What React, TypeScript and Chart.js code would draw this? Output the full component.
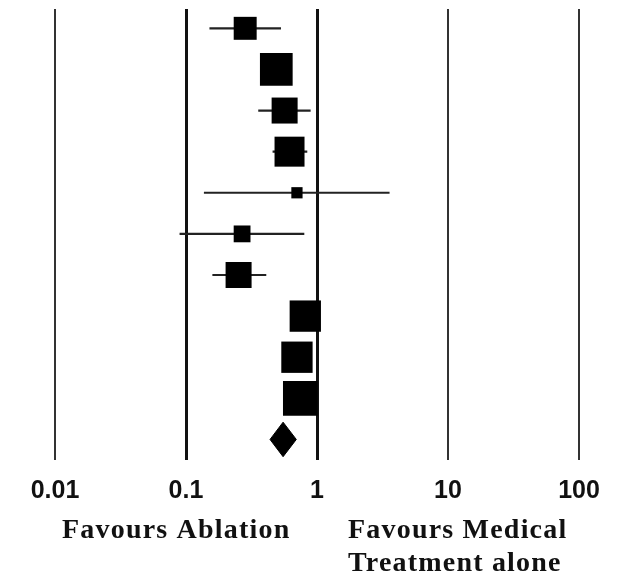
import React, { useEffect, useRef } from 'react';
import { Chart, registerables } from 'chart.js';

Chart.register(...registerables);

// ---- Data ----
const studies = ['Study 1', 'Study 2', 'Study 3', 'Study 4', 'Study 5', 'Study 6', 'Study 7', 'Study 8', 'Study 9', 'Study 10'];
const estimates = [0.283, 0.489, 0.566, 0.617, 0.703, 0.268, 0.252, 0.814, 0.703, 0.746];
const lowerCI = [0.151, 0.42, 0.356, 0.458, 0.137, 0.0893, 0.159, 0.70, 0.60, 0.63];
const upperCI = [0.531, 0.57, 0.894, 0.843, 3.58, 0.80, 0.41, 0.95, 0.82, 0.88];
const weights = [7.1, 14.4, 9.1, 12.1, 1.7, 3.8, 9.1, 13.2, 13.2, 16.2];
const pooledEstimate = 0.551;
const pooledLower = 0.438;
const pooledUpper = 0.695;
const tickValues = [0.01, 0.1, 1, 10, 100];
const tickLabels = ['0.01', '0.1', '1', '10', '100'];
const leftLabel = 'Favours Ablation';
const rightLabelLines = ['Favours Medical', 'Treatment alone'];

const SQUARE_SCALE = 8.62; // px of side per sqrt(weight)
const DIAMOND_HALF_HEIGHT = 0.42; // in row units

const labelsPlugin = {
  id: 'favoursLabels',
  afterDraw(chart: any) {
    const ctx = chart.ctx as CanvasRenderingContext2D;
    ctx.save();
    ctx.fillStyle = '#111';
    ctx.font = 'bold 28px "Liberation Serif", "Times New Roman", serif';
    (ctx as any).letterSpacing = '1.2px';
    ctx.textAlign = 'left';
    ctx.textBaseline = 'alphabetic';
    ctx.fillText(leftLabel, 62, 538);
    ctx.fillText(rightLabelLines[0], 348, 538);
    ctx.fillText(rightLabelLines[1], 348, 571);
    ctx.restore();
  },
};

export default function App() {
  const canvasRef = useRef<HTMLCanvasElement | null>(null);

  useEffect(() => {
    document.body.style.margin = '0';
    const canvas = canvasRef.current;
    if (!canvas) return;

    const squareData = estimates.map((v, i) => ({ x: v, y: i }));
    const squareRadii = weights.map((w) => (SQUARE_SCALE * Math.sqrt(w)) / Math.SQRT2);

    const whiskerSets = studies.map((name, i) => ({
      type: 'line' as const,
      label: name + ' CI',
      data: [
        { x: lowerCI[i], y: i },
        { x: upperCI[i], y: i },
      ],
      borderColor: '#222',
      borderWidth: 2.2,
      pointRadius: 0,
      pointHoverRadius: 0,
      fill: false,
      order: 2,
    }));

    const py = studies.length;
    const diamond = {
      type: 'line' as const,
      label: 'Pooled',
      data: [
        { x: pooledLower, y: py },
        { x: pooledEstimate, y: py - DIAMOND_HALF_HEIGHT },
        { x: pooledUpper, y: py },
        { x: pooledEstimate, y: py + DIAMOND_HALF_HEIGHT },
        { x: pooledLower, y: py },
      ],
      borderColor: '#000',
      backgroundColor: '#000',
      borderWidth: 1,
      pointRadius: 0,
      pointHoverRadius: 0,
      tension: 0,
      fill: 'shape',
      order: 1,
    };

    const chart = new Chart(canvas, {
      type: 'scatter',
      data: {
        datasets: [
          {
            type: 'scatter',
            label: 'Estimate',
            data: squareData,
            pointStyle: 'rect',
            pointRadius: squareRadii,
            pointHoverRadius: squareRadii,
            backgroundColor: '#000',
            borderColor: '#000',
            borderWidth: 0,
            order: 0,
          } as any,
          ...whiskerSets,
          diamond as any,
        ],
      },
      options: {
        animation: false,
        responsive: false,
        events: [],
        layout: { autoPadding: false, padding: { top: 9, left: 55, right: 41, bottom: 52 } },
        plugins: {
          legend: { display: false },
          tooltip: { enabled: false },
        },
        scales: {
          x: {
            type: 'logarithmic',
            min: 0.01,
            max: 100,
            afterBuildTicks: (scale: any) => {
              scale.ticks = tickValues.map((v) => ({ value: v, major: true }));
            },
            ticks: {
              autoSkip: false,
              maxRotation: 0,
              padding: 16,
              color: '#111',
              font: { family: '"Liberation Sans", Arial, sans-serif', size: 25, weight: 'bold' },
              callback: (value: any) => {
                const idx = tickValues.findIndex((t) => Math.abs(t - Number(value)) < 1e-9);
                return idx >= 0 ? tickLabels[idx] : '';
              },
            },
            grid: {
              drawTicks: false,
              color: (c: any) => {
                const v = c.tick ? c.tick.value : 0;
                return v === 0.1 || v === 1 ? '#111' : '#333';
              },
              lineWidth: (c: any) => {
                const v = c.tick ? c.tick.value : 0;
                return v === 0.1 || v === 1 ? 3 : 2;
              },
            },
            border: { display: false },
          },
          y: {
            type: 'linear',
            display: false,
            reverse: true,
            min: -0.47,
            max: 10.5,
          },
        },
      } as any,
      plugins: [labelsPlugin],
    });

    return () => chart.destroy();
  }, []);

  return (
    <div style={{ position: 'absolute', left: 0, top: 0, width: 620, height: 574 }}>
      <canvas ref={canvasRef} width={620} height={574} />
    </div>
  );
}
